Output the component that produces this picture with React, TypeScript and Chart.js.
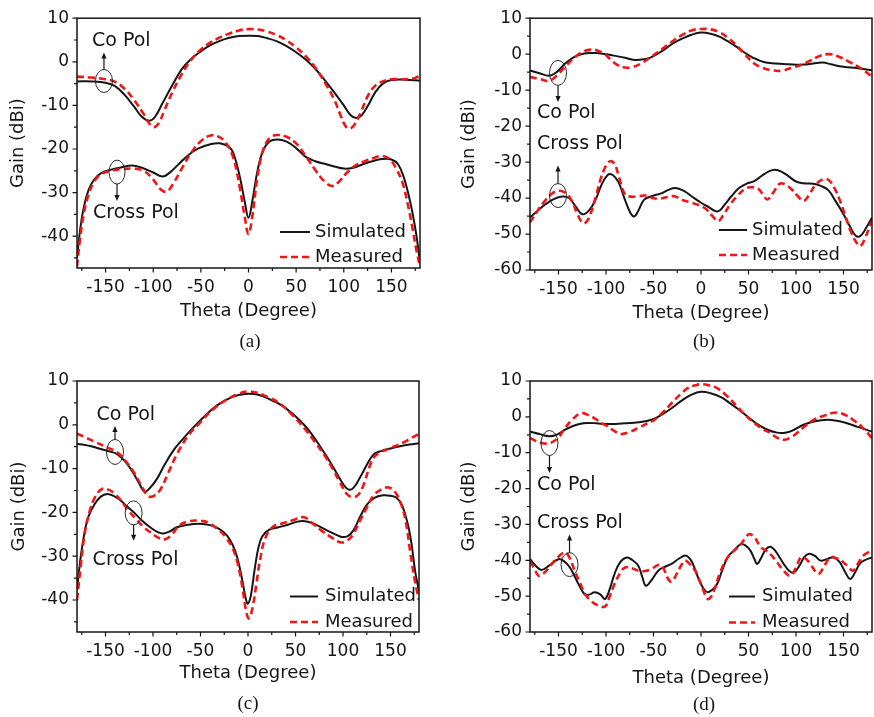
import { useEffect, useRef } from "react";
import { Chart, registerables } from "chart.js";

Chart.register(...registerables);

type Pt = [number, number];

// ---- axis ticks ----
const THETA_MAJOR = [-150, -100, -50, 0, 50, 100, 150];
const THETA_MINOR = [-175, -125, -75, -25, 25, 75, 125, 175];
const GAIN_MAJOR_AC = [10, 0, -10, -20, -30, -40];
const GAIN_MINOR_AC = [5, -5, -15, -25, -35, -45];
const GAIN_MAJOR_BD = [10, 0, -10, -20, -30, -40, -50, -60];
const GAIN_MINOR_BD = [5, -5, -15, -25, -35, -45, -55];

// ---- panel (a) ----
const aCoSim: Pt[] = [[-180,-4.5],[-165,-4.5],[-150,-4.8],[-140,-5.6],[-130,-7.6],[-120,-10.3],[-112,-12.6],[-104,-13.5],[-98,-12.6],[-90,-9.4],[-80,-5.4],[-70,-1.7],[-60,0.7],[-50,2.4],[-40,3.8],[-30,4.8],[-20,5.5],[-10,5.9],[0,6],[10,5.9],[20,5.4],[30,4.7],[40,3.6],[50,2.2],[60,0.5],[70,-1.6],[80,-4.2],[90,-7],[100,-10],[107,-12.2],[113,-12.9],[119,-12.2],[126,-9.8],[133,-7],[141,-5],[150,-4.2],[165,-4.1],[180,-4.3]];
const aCoMeas: Pt[] = [[-180,-3.4],[-165,-3.6],[-150,-4],[-140,-4.6],[-130,-6.2],[-120,-8.8],[-110,-12],[-104,-14.2],[-99,-15],[-94,-14],[-88,-11],[-80,-7],[-70,-2.8],[-60,0.5],[-50,2.8],[-40,4.4],[-30,5.6],[-20,6.5],[-10,7.2],[0,7.5],[10,7.4],[20,6.9],[30,6.1],[40,4.9],[50,3.3],[60,1.3],[70,-1.3],[80,-4.7],[90,-8.7],[97,-12.5],[102,-14.8],[106,-15.3],[111,-14.5],[118,-11.5],[126,-7.5],[134,-5.3],[142,-4.4],[150,-4],[165,-4],[175,-3.7],[180,-3.1]];
const aXSim: Pt[] = [[-180,-45],[-177,-39],[-173,-33.5],[-168,-29.5],[-162,-27],[-155,-25.6],[-145,-24.8],[-135,-24.3],[-122,-23.8],[-112,-24.3],[-100,-25.4],[-90,-26.3],[-82,-25.3],[-72,-23.2],[-62,-21.2],[-52,-19.8],[-40,-18.9],[-30,-18.7],[-20,-19.6],[-15,-21.5],[-9,-26.5],[-4,-32],[0,-35.8],[4,-32],[9,-25.5],[15,-20.5],[22,-18.3],[30,-17.8],[40,-18.3],[50,-19.8],[60,-21.8],[70,-22.8],[80,-23.4],[90,-24],[100,-24.5],[110,-24.3],[120,-23.5],[130,-22.8],[140,-22.3],[150,-22.4],[157,-23.5],[163,-26.5],[168,-30.5],[172,-34.5],[176,-39.5],[180,-46]];
const aXMeas: Pt[] = [[-180,-47],[-177,-41],[-173,-35],[-168,-30.5],[-162,-27.5],[-155,-25.8],[-145,-25],[-132,-24.6],[-120,-24.5],[-110,-25],[-100,-27],[-92,-29.3],[-86,-29.8],[-80,-28.3],[-70,-24.5],[-60,-20.8],[-50,-18.2],[-40,-16.9],[-32,-17.1],[-24,-18.5],[-16,-22],[-9,-29],[-4,-35.5],[0,-39.5],[4,-35.5],[9,-27],[15,-20.5],[22,-17.5],[30,-16.8],[40,-17.2],[50,-18.7],[60,-21.6],[70,-24.8],[80,-27.5],[88,-28.5],[95,-27.5],[103,-25.5],[112,-23.8],[122,-22.8],[132,-22],[140,-21.6],[148,-22.3],[155,-24.5],[162,-28],[167,-32.5],[172,-38],[176,-43],[180,-47]];

// ---- panel (b) ----
const bCoSim: Pt[] = [[-180,-4.5],[-170,-5.3],[-160,-6],[-152,-5],[-143,-2.6],[-135,-1],[-127,-0.1],[-118,0.3],[-110,0.3],[-100,0],[-92,-0.4],[-80,-1],[-70,-1.6],[-60,-1.4],[-52,-0.8],[-42,0.7],[-30,2.9],[-20,4.3],[-10,5.4],[0,6],[10,5.7],[20,4.8],[28,3.6],[36,2.3],[45,0.6],[55,-1],[66,-2.2],[78,-2.6],[92,-2.8],[108,-2.9],[118,-2.6],[128,-2.3],[138,-2.9],[150,-3.5],[165,-3.9],[180,-4.5]];
const bCoMeas: Pt[] = [[-180,-6.3],[-170,-6.9],[-160,-7.4],[-152,-6],[-143,-3.5],[-135,-1.4],[-127,0.3],[-118,1.2],[-110,1.1],[-102,0.1],[-95,-1.5],[-88,-3],[-80,-3.7],[-72,-3.6],[-64,-2.7],[-55,-1.2],[-48,0.1],[-40,1.6],[-31,3.4],[-20,5.3],[-10,6.6],[0,7],[10,6.9],[20,6],[30,4.2],[38,2.3],[46,0],[56,-2.6],[65,-3.8],[75,-4.5],[85,-4.6],[95,-3.8],[105,-3],[115,-1.8],[125,-0.5],[135,0],[145,-0.7],[155,-2],[165,-3.4],[173,-4.8],[180,-6.3]];
const bXSim: Pt[] = [[-180,-45.4],[-172,-43.5],[-164,-41.8],[-155,-40.3],[-146,-39.6],[-139,-40],[-132,-42.3],[-125,-44.5],[-118,-43.5],[-111,-40.5],[-105,-36.5],[-98,-33.5],[-93,-33.6],[-87,-35.5],[-80,-40.5],[-74,-44.3],[-70,-45.1],[-66,-43.5],[-60,-40.5],[-52,-39.5],[-42,-38.7],[-35,-37.8],[-27,-37.2],[-18,-38],[-10,-39.5],[0,-41.3],[8,-42.5],[16,-43.7],[20,-43.4],[26,-41.5],[32,-39.5],[40,-37.2],[48,-36],[56,-35.3],[64,-33.8],[72,-32.5],[78,-32.1],[85,-32.7],[92,-33.9],[100,-35.4],[108,-35.9],[118,-36],[126,-36.6],[134,-37.8],[142,-41],[150,-44.5],[157,-48],[163,-50.5],[168,-50.5],[174,-48.2],[180,-45.4]];
const bXMeas: Pt[] = [[-180,-46.8],[-172,-43.5],[-165,-41],[-157,-38.8],[-150,-38],[-143,-38.5],[-136,-40.8],[-130,-44.5],[-124,-47],[-119,-46],[-112,-40.8],[-106,-35],[-101,-31.5],[-96,-29.8],[-91,-30.5],[-86,-34.5],[-80,-39],[-74,-39.6],[-66,-39.5],[-58,-39.3],[-52,-39.9],[-44,-40.2],[-35,-39.7],[-28,-39.5],[-20,-40.5],[-10,-41.3],[-2,-42],[5,-43],[12,-45],[18,-46.4],[24,-44.5],[30,-42],[38,-39.5],[46,-37.5],[52,-37],[60,-37.4],[66,-39.3],[70,-40.4],[76,-38.5],[83,-36],[89,-36.3],[95,-37.5],[102,-39.5],[108,-40.8],[114,-39],[120,-36.5],[128,-34.8],[134,-34.9],[140,-37],[146,-40.5],[152,-45],[158,-49.5],[164,-52.5],[168,-53.3],[173,-51],[178,-47.5],[180,-46.4]];

// ---- panel (c) ----
const cCoSim: Pt[] = [[-180,-4.3],[-165,-4.9],[-154,-5.6],[-145,-6.1],[-137,-6.8],[-128,-8.7],[-120,-11.3],[-114,-13.6],[-109,-15.3],[-104,-14.6],[-96,-12.4],[-88,-9.2],[-79,-6],[-70,-3.6],[-58,-0.7],[-46,1.9],[-34,4.2],[-22,5.8],[-10,6.8],[0,7.1],[10,6.9],[22,5.9],[35,4.5],[47,2.5],[59,0],[68,-2.4],[77,-5.3],[86,-8.3],[94,-11.3],[101,-13.8],[106,-14.8],[111,-14.4],[118,-12],[125,-9.2],[132,-6.8],[140,-6],[150,-5.4],[160,-4.9],[170,-4.5],[180,-4.2]];
const cCoMeas: Pt[] = [[-180,-2],[-170,-3],[-160,-4],[-150,-5],[-137,-6.4],[-128,-8.5],[-120,-10.9],[-112,-14],[-105,-16.3],[-99,-16.2],[-92,-14.7],[-84,-11],[-75,-6.8],[-63,-2.5],[-51,0.4],[-37,3.5],[-23,5.7],[-10,7.1],[0,7.6],[10,7.3],[20,6.4],[32,5.1],[45,2.6],[59,-0.7],[70,-3.8],[80,-6.8],[89,-10],[97,-13.2],[104,-15.8],[110,-16.5],[116,-16],[122,-13.5],[128,-9.5],[133,-7.3],[140,-6.2],[150,-5.3],[163,-4.1],[172,-3],[180,-2.1]];
const cXSim: Pt[] = [[-180,-37.7],[-176,-30],[-172,-24.5],[-168,-21],[-162,-18.3],[-155,-16.4],[-148,-15.8],[-141,-16.3],[-134,-17.3],[-127,-18.7],[-120,-20],[-112,-21.8],[-103,-23.4],[-95,-24.5],[-89,-24.8],[-82,-24.3],[-75,-23.4],[-63,-22.8],[-51,-22.6],[-40,-22.9],[-30,-23.8],[-22,-25.3],[-16,-27.5],[-11,-30.5],[-6,-35.5],[-2,-40],[0,-40.8],[3,-39],[7,-33],[11,-28],[15,-25.5],[22,-24],[32,-23.4],[42,-22.8],[52,-22.1],[60,-22],[67,-22.4],[75,-23.2],[83,-24.1],[92,-25],[99,-25.6],[105,-25.4],[111,-24.1],[118,-21],[125,-18.3],[133,-16.7],[142,-16.1],[150,-16.2],[156,-16.6],[162,-18.3],[168,-22.5],[172,-27],[176,-33.5],[180,-38]];
const cXMeas: Pt[] = [[-180,-40],[-176,-32],[-172,-25],[-167,-20],[-161,-16.5],[-154,-14.7],[-147,-14.8],[-140,-15.8],[-132,-17.8],[-125,-19.8],[-118,-21.5],[-110,-23.3],[-103,-24.5],[-94,-25.8],[-87,-26.1],[-80,-25],[-72,-22.9],[-62,-22],[-51,-21.9],[-42,-22.3],[-32,-23.8],[-24,-25.5],[-16,-28.3],[-11,-31.5],[-6,-37],[-2,-42.5],[1,-44.2],[5,-41.5],[9,-36],[13,-30.5],[18,-26],[26,-23.3],[35,-22.6],[47,-21.8],[59,-21.1],[68,-22.5],[77,-24.1],[87,-25.6],[97,-26.8],[104,-26.5],[111,-24.9],[118,-21.8],[125,-18.9],[132,-16.2],[140,-14.8],[148,-14.3],[155,-15.4],[161,-18],[166,-22],[171,-29.4],[176,-36],[180,-40]];

// ---- panel (d) ----
const dCoSim: Pt[] = [[-180,-4.1],[-170,-4.8],[-160,-5.4],[-152,-5],[-144,-3.7],[-136,-2.7],[-128,-2],[-120,-1.7],[-110,-1.8],[-100,-2],[-90,-2],[-80,-1.8],[-66,-1.5],[-52,-0.8],[-42,0.5],[-31,2.4],[-20,4.6],[-10,6.2],[0,7],[10,6.6],[21,5.5],[30,3.9],[40,2],[49,0.1],[58,-1.8],[70,-3.6],[80,-4.4],[87,-4.5],[95,-4],[108,-2.2],[120,-1.2],[133,-0.8],[143,-1.1],[153,-1.7],[165,-2.8],[180,-4.1]];
const dCoMeas: Pt[] = [[-180,-5.9],[-168,-7.3],[-158,-7.2],[-150,-5.7],[-143,-3.1],[-135,-0.6],[-126,1],[-118,0.4],[-112,-0.4],[-104,-1.8],[-98,-2.7],[-91,-4],[-84,-4.8],[-75,-4.2],[-66,-3.1],[-57,-1.9],[-49,-0.8],[-40,1.3],[-31,3.8],[-22,6.2],[-14,8],[-6,8.8],[0,9.1],[8,8.8],[17,8],[27,5.9],[38,2.9],[47,0.4],[56,-1.7],[65,-3.4],[73,-4.5],[80,-5.8],[87,-6.4],[94,-5.8],[101,-4.5],[110,-2.5],[119,-0.8],[130,0.4],[143,1.2],[152,0.5],[160,-0.8],[170,-3],[180,-5.9]];
const dXSim: Pt[] = [[-180,-39.7],[-174,-41.5],[-168,-42.7],[-160,-41.5],[-150,-39.7],[-144,-40.3],[-138,-42],[-133,-44.5],[-129,-46.6],[-122,-49.6],[-117,-49.5],[-112,-48.9],[-106,-49.5],[-101,-50.8],[-96,-48],[-91,-43.8],[-85,-40.5],[-78,-39.2],[-72,-40],[-66,-41.5],[-62,-44.5],[-58,-47.1],[-52,-45.5],[-45,-42.9],[-38,-41.8],[-31,-41],[-23,-39.5],[-16,-38.7],[-11,-39.8],[-7,-42],[-2,-45.5],[3,-48],[7,-48.9],[12,-48.2],[17,-46.6],[22,-43],[28,-39.2],[35,-37.2],[42,-35.5],[47,-35.9],[52,-37.3],[56,-39.5],[59,-41],[63,-39.5],[68,-37],[73,-36.2],[78,-37.3],[83,-39.3],[87,-41],[93,-43],[98,-43.4],[104,-41.3],[109,-39],[114,-38.2],[120,-38.8],[126,-40.1],[133,-39.6],[140,-39.2],[146,-40.5],[152,-43.4],[157,-45.2],[162,-43.5],[167,-41],[172,-40],[180,-39.2]];
const dXMeas: Pt[] = [[-180,-40.3],[-175,-42.5],[-171,-44.3],[-165,-43.5],[-157,-41],[-150,-39],[-143,-37.8],[-138,-39.5],[-133,-42.9],[-127,-46.5],[-122,-49.4],[-115,-51.5],[-108,-52.6],[-101,-52.9],[-96,-50],[-91,-46.6],[-85,-43.5],[-80,-42],[-73,-42.2],[-66,-42.9],[-59,-43],[-52,-42.4],[-45,-41.3],[-40,-42],[-35,-45],[-31,-46],[-26,-44],[-21,-41.5],[-17,-40.1],[-12,-41],[-6,-43],[-3,-44.7],[2,-48],[7,-50.8],[11,-50],[15,-47.5],[20,-43.5],[28,-39.2],[35,-37.3],[42,-35.5],[48,-33.3],[51,-32.7],[56,-33.5],[63,-36.4],[68,-37.2],[73,-38.3],[80,-40.5],[87,-42.9],[94,-44.3],[100,-42],[105,-39.2],[110,-39.5],[115,-41],[120,-43],[124,-43.8],[129,-42],[136,-39.2],[143,-39.5],[150,-40.6],[155,-41.8],[160,-42.9],[165,-41],[171,-38.7],[176,-37.8],[180,-37.3]];

const SANS = '"DejaVu Sans", sans-serif';
const SERIF = '"Liberation Serif", "Times New Roman", serif';
const INK = "#151515";
const RED = "#f01616";

interface Marker {
  label: string;
  theta: number;
  gain: number;
  rx: number;
  ry: number;
  dir: 1 | -1; // arrow direction: 1 = down, -1 = up
  tip: number; // distance from ellipse centre to arrow tip
  dx: number; // label left edge relative to ellipse centre
  dy: number; // label middle relative to ellipse centre
}

interface PanelSpec {
  key: string;
  caption: string;
  box: { x: number; y: number; w: number; h: number };
  pad: { top: number; right: number };
  yAxisW: number;
  xAxisH: number;
  yTitlePad: number;
  xTitlePad: number;
  yMin: number;
  yMax: number;
  gainMajor: number[];
  gainMinor: number[];
  coSim: Pt[];
  coMeas: Pt[];
  xSim: Pt[];
  xMeas: Pt[];
  markers: Marker[];
  legend: { x0: number; x1: number; tx: number; y1: number; y2: number };
  capPos: [number, number];
}

const PANELS: PanelSpec[] = [
  {
    key: "a", caption: "(a)",
    box: { x: 0, y: 0, w: 437, h: 358 },
    pad: { top: 15, right: 17 }, yAxisW: 77, xAxisH: 90, yTitlePad: 8, xTitlePad: 36,
    yMin: -47.3, yMax: 10, gainMajor: GAIN_MAJOR_AC, gainMinor: GAIN_MINOR_AC,
    coSim: aCoSim, coMeas: aCoMeas, xSim: aXSim, xMeas: aXMeas,
    markers: [
      { label: "Co Pol", theta: -151.7, gain: -4.4, rx: 8.5, ry: 11.5, dir: -1, tip: 28.5, dx: -12, dy: -40 },
      { label: "Cross Pol", theta: -138, gain: -25.3, rx: 8, ry: 12, dir: 1, tip: 29, dx: -24, dy: 41 },
    ],
    legend: { x0: -140, x1: -110, tx: -105, y1: -36, y2: -11 },
    capPos: [250, 342.5],
  },
  {
    key: "b", caption: "(b)",
    box: { x: 437, y: 0, w: 437, h: 358 },
    pad: { top: 16, right: 2 }, yAxisW: 93, xAxisH: 88, yTitlePad: 22, xTitlePad: 34,
    yMin: -60, yMax: 10, gainMajor: GAIN_MAJOR_BD, gainMinor: GAIN_MINOR_BD,
    coSim: bCoSim, coMeas: bCoMeas, xSim: bXSim, xMeas: bXMeas,
    markers: [
      { label: "Co Pol", theta: -150.5, gain: -5.2, rx: 8.5, ry: 12.5, dir: 1, tip: 29, dx: -21, dy: 40 },
      { label: "Cross Pol", theta: -150.5, gain: -39.3, rx: 8.5, ry: 12, dir: -1, tip: 30, dx: -21, dy: -51 },
    ],
    legend: { x0: -153, x1: -125, tx: -120, y1: -40, y2: -15 },
    capPos: [267, 342],
  },
  {
    key: "c", caption: "(c)",
    box: { x: 0, y: 358, w: 437, h: 359 },
    pad: { top: 23, right: 18 }, yAxisW: 77, xAxisH: 85, yTitlePad: 9, xTitlePad: 33,
    yMin: -47.3, yMax: 10, gainMajor: GAIN_MAJOR_AC, gainMinor: GAIN_MINOR_AC,
    coSim: cCoSim, coMeas: cCoMeas, xSim: cXSim, xMeas: cXMeas,
    markers: [
      { label: "Co Pol", theta: -140, gain: -6.2, rx: 8.5, ry: 12.5, dir: -1, tip: 26, dx: -18.5, dy: -36.5 },
      { label: "Cross Pol", theta: -120.4, gain: -20.1, rx: 8.5, ry: 12, dir: 1, tip: 28, dx: -41, dy: 47.5 },
    ],
    legend: { x0: -129, x1: -101, tx: -94, y1: -35.5, y2: -10 },
    capPos: [248, 346],
  },
  {
    key: "d", caption: "(d)",
    box: { x: 437, y: 358, w: 437, h: 359 },
    pad: { top: 23, right: 2 }, yAxisW: 93, xAxisH: 85, yTitlePad: 22, xTitlePad: 28,
    yMin: -60, yMax: 10, gainMajor: GAIN_MAJOR_BD, gainMinor: GAIN_MINOR_BD,
    coSim: dCoSim, coMeas: dCoMeas, xSim: dXSim, xMeas: dXMeas,
    markers: [
      { label: "Co Pol", theta: -159.5, gain: -7.3, rx: 8.5, ry: 12.5, dir: 1, tip: 30, dx: -12.5, dy: 42.5 },
      { label: "Cross Pol", theta: -138.4, gain: -41.2, rx: 8.5, ry: 12, dir: -1, tip: 30, dx: -32.5, dy: -41.5 },
    ],
    legend: { x0: -143, x1: -117, tx: -110, y1: -35.5, y2: -9.5 },
    capPos: [267, 347],
  },
];

const toPoints = (pts: Pt[]) => pts.map(([x, y]) => ({ x, y }));

function decorPlugin(spec: PanelSpec) {
  return {
    id: "decor-" + spec.key,
    afterDraw(chart: any) {
      const ctx: CanvasRenderingContext2D = chart.ctx;
      const { left, top, right, bottom } = chart.chartArea;
      const xs = chart.scales.x;
      const ys = chart.scales.y;
      ctx.save();

      // plot frame
      ctx.strokeStyle = INK;
      ctx.lineWidth = 1.5;
      ctx.strokeRect(left, top, right - left, bottom - top);

      // outward tick marks, major and minor
      ctx.lineWidth = 1.2;
      ctx.beginPath();
      THETA_MAJOR.forEach((v) => {
        const p = xs.getPixelForValue(v);
        ctx.moveTo(p, bottom); ctx.lineTo(p, bottom + 4.5);
      });
      THETA_MINOR.forEach((v) => {
        const p = xs.getPixelForValue(v);
        ctx.moveTo(p, bottom); ctx.lineTo(p, bottom + 3);
      });
      spec.gainMajor.forEach((v) => {
        const p = ys.getPixelForValue(v);
        ctx.moveTo(left, p); ctx.lineTo(left - 4.5, p);
      });
      spec.gainMinor.forEach((v) => {
        const p = ys.getPixelForValue(v);
        ctx.moveTo(left, p); ctx.lineTo(left - 3, p);
      });
      ctx.stroke();

      // polarisation markers: ellipse, arrow and label
      spec.markers.forEach((m) => {
        const cx = xs.getPixelForValue(m.theta);
        const cy = ys.getPixelForValue(m.gain);
        ctx.strokeStyle = "#2a2a2a";
        ctx.lineWidth = 1;
        ctx.beginPath();
        ctx.ellipse(cx, cy, m.rx, m.ry, 0, 0, Math.PI * 2);
        ctx.stroke();
        const y0 = cy + m.dir * m.ry;
        const y1 = cy + m.dir * m.tip;
        ctx.strokeStyle = INK;
        ctx.lineWidth = 1.2;
        ctx.beginPath();
        ctx.moveTo(cx, y0);
        ctx.lineTo(cx, y1 - m.dir * 5);
        ctx.stroke();
        ctx.fillStyle = INK;
        ctx.beginPath();
        ctx.moveTo(cx, y1);
        ctx.lineTo(cx - 2.6, y1 - m.dir * 6);
        ctx.lineTo(cx + 2.6, y1 - m.dir * 6);
        ctx.closePath();
        ctx.fill();
        ctx.font = `19px ${SANS}`;
        ctx.textAlign = "left";
        ctx.textBaseline = "middle";
        ctx.fillText(m.label, cx + m.dx, cy + m.dy);
      });

      // legend
      const lg = spec.legend;
      ctx.lineWidth = 2;
      ctx.strokeStyle = INK;
      ctx.setLineDash([]);
      ctx.beginPath();
      ctx.moveTo(right + lg.x0, bottom + lg.y1);
      ctx.lineTo(right + lg.x1, bottom + lg.y1);
      ctx.stroke();
      ctx.lineWidth = 2.6;
      ctx.strokeStyle = RED;
      ctx.setLineDash([7, 4]);
      ctx.beginPath();
      ctx.moveTo(right + lg.x0, bottom + lg.y2);
      ctx.lineTo(right + lg.x1, bottom + lg.y2);
      ctx.stroke();
      ctx.setLineDash([]);
      ctx.fillStyle = INK;
      ctx.font = `18px ${SANS}`;
      ctx.textAlign = "left";
      ctx.textBaseline = "middle";
      ctx.fillText("Simulated", right + lg.tx, bottom + lg.y1);
      ctx.fillText("Measured", right + lg.tx, bottom + lg.y2);

      // sub-figure caption
      ctx.font = `19px ${SERIF}`;
      ctx.textAlign = "center";
      ctx.fillText(spec.caption, spec.capPos[0], spec.capPos[1]);

      ctx.restore();
    },
  };
}

function Panel({ spec }: { spec: PanelSpec }) {
  const ref = useRef<HTMLCanvasElement>(null);

  useEffect(() => {
    if (!ref.current) return;
    const line = (pts: Pt[], measured: boolean) => ({
      data: toPoints(pts),
      borderColor: measured ? RED : INK,
      borderWidth: measured ? 2.6 : 2,
      borderDash: measured ? [7, 4] : [],
      pointRadius: 0,
      tension: 0.4,
      fill: false,
    });
    const chart = new Chart(ref.current, {
      type: "line",
      data: {
        datasets: [
          { label: "Co Measured", ...line(spec.coMeas, true) },
          { label: "Cross Measured", ...line(spec.xMeas, true) },
          { label: "Co Simulated", ...line(spec.coSim, false) },
          { label: "Cross Simulated", ...line(spec.xSim, false) },
        ],
      },
      options: {
        animation: false,
        responsive: false,
        devicePixelRatio: 1,
        layout: { padding: { left: 0, bottom: 0, top: spec.pad.top, right: spec.pad.right } },
        plugins: { legend: { display: false }, tooltip: { enabled: false } },
        scales: {
          x: {
            type: "linear",
            min: -180,
            max: 180,
            afterBuildTicks: (s: any) => {
              s.ticks = THETA_MAJOR.map((v) => ({ value: v }));
            },
            afterFit: (s: any) => {
              s.height = spec.xAxisH;
            },
            grid: { display: false, drawTicks: false },
            border: { display: false },
            ticks: {
              padding: 9,
              autoSkip: false,
              maxRotation: 0,
              color: INK,
              font: { family: SANS, size: 17 },
              callback: (v: any) => String(v),
            },
            title: {
              display: true,
              text: "Theta (Degree)",
              color: INK,
              font: { family: SANS, size: 18 },
              padding: { top: 0, bottom: spec.xTitlePad },
            },
          },
          y: {
            type: "linear",
            min: spec.yMin,
            max: spec.yMax,
            afterBuildTicks: (s: any) => {
              s.ticks = spec.gainMajor.map((v) => ({ value: v }));
            },
            afterFit: (s: any) => {
              s.width = spec.yAxisW;
            },
            grid: { display: false, drawTicks: false },
            border: { display: false },
            ticks: {
              padding: 8,
              autoSkip: false,
              color: INK,
              font: { family: SANS, size: 17 },
              callback: (v: any) => String(v),
            },
            title: {
              display: true,
              text: "Gain (dBi)",
              color: INK,
              font: { family: SANS, size: 18 },
              padding: { top: spec.yTitlePad, bottom: 0 },
            },
          },
        },
      },
      plugins: [decorPlugin(spec)],
    } as any);
    return () => chart.destroy();
  }, [spec]);

  return (
    <canvas
      ref={ref}
      width={spec.box.w}
      height={spec.box.h}
      style={{ position: "absolute", left: spec.box.x, top: spec.box.y, width: spec.box.w, height: spec.box.h }}
    />
  );
}

export default function App() {
  return (
    <div style={{ position: "absolute", left: 0, top: 0, width: 874, height: 717, background: "#fff", overflow: "hidden" }}>
      {PANELS.map((p) => (
        <Panel key={p.key} spec={p} />
      ))}
    </div>
  );
}
